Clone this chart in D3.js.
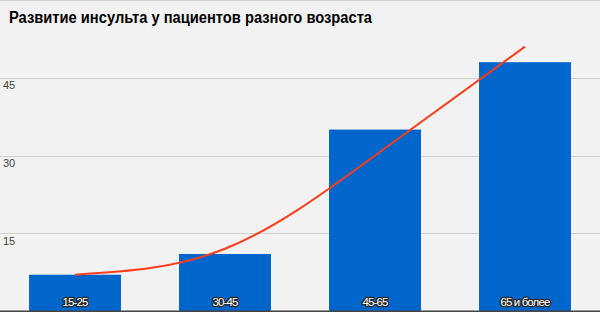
<!DOCTYPE html>
<html>
<head>
<meta charset="utf-8">
<script src="https://cdn.jsdelivr.net/npm/d3@7"></script>
<style>
    body { margin: 0; background: #f2f2f2; }
    svg { display: block; font-family: "Liberation Sans", Arial, sans-serif; }
</style>
</head>
<body>
<div id="chart"></div>
<script>
// Data
const categories = ["15-25", "30-45", "45-65", "65 и более"];
const values = [7, 11, 35, 48];
const trendValues = [7, 12, 30, 51];
const yTicks = [15, 30, 45, 60];
const yTickLabels = ["15", "30", "45", ""];
const title = "Развитие инсульта у пациентов разного возраста";

const width = 600, height = 312;
const margin = { top: 0, right: 0, bottom: 1, left: 0 };

const svg = d3.select("#chart")
    .append("svg")
    .attr("width", width)
    .attr("height", height);

svg.append("rect")
    .attr("width", width)
    .attr("height", height)
    .attr("fill", "#f2f2f2");

// Scales
const x = d3.scaleBand()
    .domain(categories)
    .range([margin.left, width - margin.right])
    .paddingInner(0.387)
    .paddingOuter(0.1935);

const y = d3.scaleLinear()
    .domain([0, 60])
    .range([height - margin.bottom, margin.top]);

// Gridlines
svg.append("g")
    .selectAll("line")
    .data(yTicks)
    .join("line")
    .attr("x1", 0)
    .attr("x2", width)
    .attr("y1", d => Math.round(y(d)) + 0.5)
    .attr("y2", d => Math.round(y(d)) + 0.5)
    .attr("stroke", "#d0d0d0")
    .attr("stroke-width", 1);

svg.append("g")
    .selectAll("text")
    .data(yTicks)
    .join("text")
    .attr("x", 3)
    .attr("y", d => y(d) + 11.5)
    .attr("font-size", 11)
    .attr("fill", "#444")
    .text((d, i) => yTickLabels[i]);

// Bars
svg.append("g")
    .selectAll("rect")
    .data(values)
    .join("rect")
    .attr("x", (d, i) => x(categories[i]))
    .attr("y", d => y(d))
    .attr("width", x.bandwidth())
    .attr("height", d => y(0) - y(d))
    .attr("fill", "#0066cc");

// Bar labels
svg.append("g")
    .selectAll("text")
    .data(categories)
    .join("text")
    .attr("x", d => x(d) + x.bandwidth() / 2)
    .attr("y", 305.5)
    .attr("text-anchor", "middle")
    .attr("font-size", 11.5)
    .attr("letter-spacing", -0.9)
    .attr("fill", "#fff")
    .attr("stroke", "#2a2a2a")
    .attr("stroke-width", 2.6)
    .attr("paint-order", "stroke")
    .attr("stroke-linejoin", "round")
    .text(d => d);

// Trend line
const line = d3.line()
    .x((d, i) => x(categories[i]) + x.bandwidth() / 2)
    .y(d => y(d))
    .curve(d3.curveNatural);

svg.append("path")
    .datum(trendValues)
    .attr("d", line)
    .attr("fill", "none")
    .attr("stroke", "#ff3c1a")
    .attr("stroke-width", 2);

// Bottom axis line
svg.append("line")
    .attr("x1", 0)
    .attr("x2", width)
    .attr("y1", height - 0.5)
    .attr("y2", height - 0.5)
    .attr("stroke", "#444")
    .attr("stroke-width", 2);

// Title
svg.append("text")
    .attr("x", 9)
    .attr("y", 23)
    .attr("font-size", 16)
    .attr("font-weight", "bold")
    .attr("fill", "#000")
    .attr("textLength", 363)
    .attr("lengthAdjust", "spacingAndGlyphs")
    .text(title);
</script>
</body>
</html>
